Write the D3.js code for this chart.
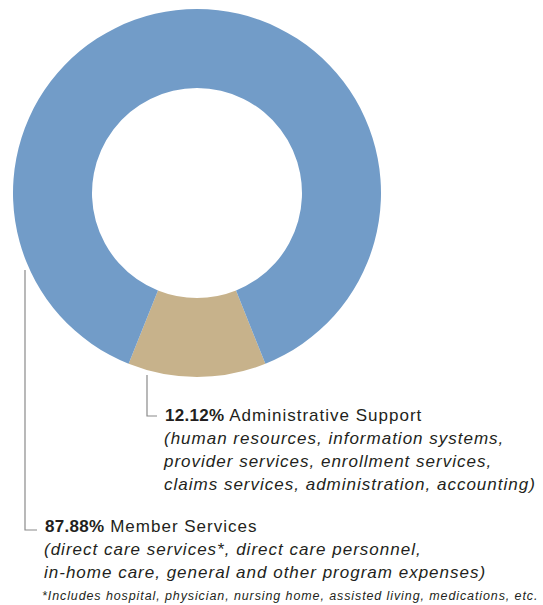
<!DOCTYPE html>
<html>
<head>
<meta charset="utf-8">
<script src="https://cdn.jsdelivr.net/npm/d3@7"></script>
<style>
  body { margin: 0; background: #fff; }
  text { font-family: "Liberation Sans", Arial, sans-serif; fill: #231f20; }
</style>
</head>
<body>
<svg id="chart" width="543" height="605"></svg>
<script>
// slice data, drawn starting from the bottom
var categories = ['Administrative Support', 'Member Services'];
var values = [12.12, 87.88];
var colors = ['#c7b28b', '#729cc8'];
var notes = [
  ['(human resources, information systems,',
   'provider services, enrollment services,',
   'claims services, administration, accounting)'],
  ['(direct care services*, direct care personnel,',
   'in-home care, general and other program expenses)']
];
var footnote = '*Includes hospital, physician, nursing home, assisted living, medications, etc.';

var svg = d3.select('#chart');
var cx = 197, cy = 193;
var outerR = 184, innerR = 105;

var adminHalf = Math.PI * values[0] / 100;
var pie = d3.pie()
  .value(d => d.value)
  .sort(null)
  .startAngle(Math.PI - adminHalf)
  .endAngle(Math.PI - adminHalf + 2 * Math.PI);

var data = categories.map((c, i) => ({ name: c, value: values[i], color: colors[i] }));
var arcs = pie(data);

var g = svg.append('g').attr('transform', `translate(${cx},${cy})`);
g.selectAll('path')
  .data(arcs)
  .enter().append('path')
  .attr('d', d3.arc().innerRadius(innerR).outerRadius(outerR))
  .attr('fill', d => d.data.color);

// leader lines
var lineColor = '#8a8a8a';
svg.append('path')
  .attr('d', 'M147,375V416H157')
  .attr('fill', 'none').attr('stroke', lineColor).attr('stroke-width', 1.2);
svg.append('path')
  .attr('d', 'M25,270V530H37')
  .attr('fill', 'none').attr('stroke', lineColor).attr('stroke-width', 1.2);

function label(x, y, i) {
  var t = svg.append('text').attr('x', x).attr('y', y).style('font-size', '17px');
  t.append('tspan').attr('font-weight', 'bold').style('letter-spacing', '0.3px')
    .text(values[i].toFixed(2) + '%');
  t.append('tspan').style('letter-spacing', '1px').text(' ' + categories[i]);
  notes[i].forEach((n, k) => {
    svg.append('text')
      .attr('x', x - 1).attr('y', y + 23 * (k + 1))
      .style('font-size', '17px').style('font-style', 'italic')
      .style('letter-spacing', '1px')
      .text(n);
  });
}
label(165, 421, 0);
label(45, 532, 1);

svg.append('text')
  .attr('x', 42).attr('y', 600)
  .style('font-size', '12.5px').style('font-style', 'italic')
  .style('letter-spacing', '0.9px')
  .text(footnote);
</script>
</body>
</html>
